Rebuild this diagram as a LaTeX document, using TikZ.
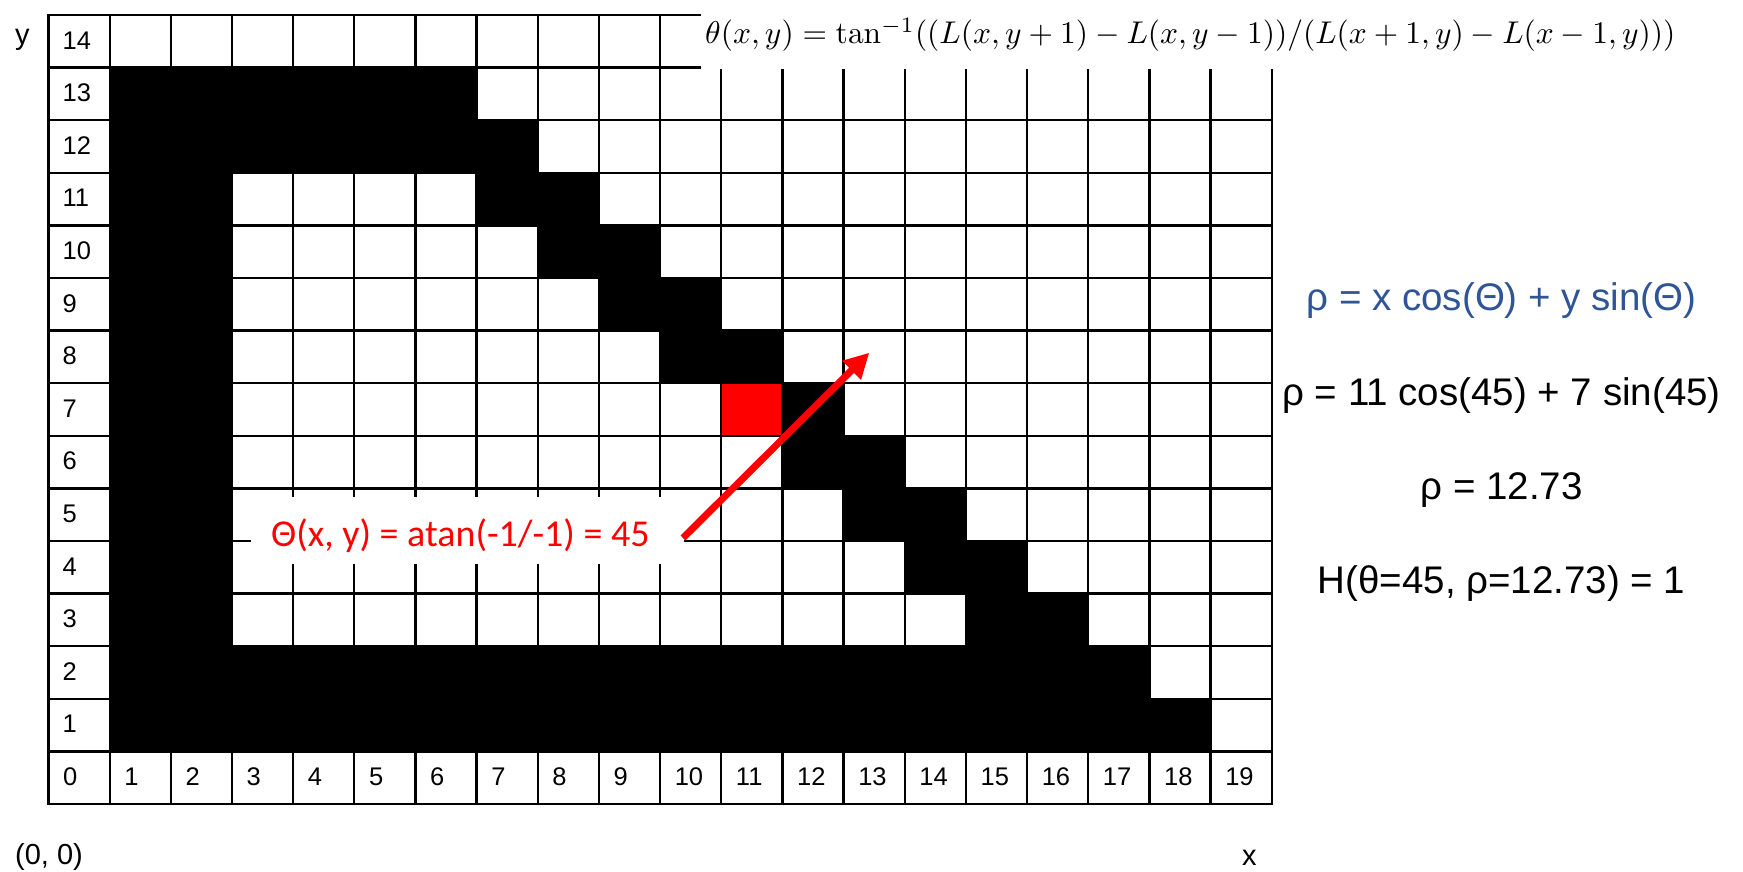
\documentclass[tikz,border=0pt]{standalone}
\usepackage[no-math]{fontspec}
\setmainfont{Liberation Sans}
\newfontfamily\calib{Carlito}
\usepackage{graphicx}
\usetikzlibrary{arrows.meta}
\definecolor{eqblue}{RGB}{47,85,151}
\definecolor{hotred}{RGB}{255,0,0}
\newcommand\blackrun[3]{\fill[cellblack] ({48.5+61.16*#2},{15+52.6*(14-#1)}) rectangle ({48.5+61.16*(#3+1)},{15+52.6*(15-#1)});}
\begin{document}
\begin{tikzpicture}[x=1pt,y=-1pt,
  cellblack/.style={fill=black},
  gridline/.style={line width=2.3pt, draw=black, line cap=rect},
  celllabel/.style={anchor=west, inner sep=0pt, font=\fontsize{25.5}{30}\selectfont},
  axislabel/.style={anchor=base west, inner sep=0pt, font=\fontsize{29}{33}\selectfont},
  rhs/.style={anchor=base, inner sep=0pt, font=\fontsize{38.5}{44}\selectfont},
  whitebox/.style={fill=white, draw=none, inner sep=0pt},
  redtext/.style={anchor=base west, inner sep=0pt, text=hotred, font=\calib\fontsize{38}{44}\selectfont},
  redarrow/.style={draw=hotred, line width=7pt, -{Triangle[length=25pt,width=25pt]}}]
\useasboundingbox (0,0) rectangle (1743,871);
\fill[white] (0,0) rectangle (1743,871);
% black pixels
\blackrun{13}{1}{6}
\blackrun{12}{1}{7}
\fill[cellblack] ({48.5+61.16*1},{15+52.6*3}) rectangle ({48.5+61.16*3},{15+52.6*12});
\blackrun{11}{7}{8}
\blackrun{10}{8}{9}
\blackrun{9}{9}{10}
\blackrun{8}{10}{11}
\blackrun{7}{12}{12}
\blackrun{6}{12}{13}
\blackrun{5}{13}{14}
\blackrun{4}{14}{15}
\blackrun{3}{15}{16}
\blackrun{2}{1}{17}
\blackrun{1}{1}{18}
% red pixel
\fill[hotred] ({48.5+61.16*11},{15+52.6*7}) rectangle ({48.5+61.16*12},{15+52.6*8});
% grid
\foreach \i in {0,...,20} \draw[gridline] ({48.5+61.16*\i},15) -- ({48.5+61.16*\i},804);
\foreach \j in {0,...,15} \draw[gridline] (48.5,{15+52.6*\j}) -- (1271.7,{15+52.6*\j});
% labels
\foreach \r in {1,...,14} \node[celllabel] (rl\r) at (62.5,{15+52.6*(14-\r)+25.3}) {\r};
\foreach \c in {0,...,19} \node[celllabel] (cl\c) at ({48.5+61.16*\c+14.5},{15+52.6*14+25.3}) {\c};
\node[axislabel] (ylab) at (15,44) {y};
\node[axislabel] (origin) at (15,864) {(0, 0)};
\node[axislabel] (xlab) at (1242,865) {x};
% equation box
\node[whitebox, minimum width=1042pt, minimum height=69pt, anchor=north west] (eqbox) at (701,0) {};
\node[anchor=west, inner sep=0pt] (eq) at (705,35) {\resizebox{970pt}{!}{$\theta(x,y)=\tan^{-1}((L(x,y+1)-L(x,y-1))/(L(x+1,y)-L(x-1,y)))$}};
% right-hand text
\node[rhs, text=eqblue] (hough) at (1501.5,310) {ρ = x cos(Θ) + y sin(Θ)};
\node[rhs] (subst) at (1501.5,405) {ρ = 11 cos(45) + 7 sin(45)};
\node[rhs] (rho) at (1501.5,499) {ρ = 12.73};
\node[rhs] (vote) at (1501.5,593) {H(θ=45, ρ=12.73) = 1};
% gradient label and arrow
\node[whitebox, minimum width=433pt, minimum height=67pt, anchor=north west] (lblbox) at (251,497) {};
\node[redtext] (lbl) at (271,546) {Θ(x, y) = atan(-1/-1) = 45};
\coordinate (atail) at (683,538);
\coordinate (ahead) at (869.3,352.7);
\draw[redarrow] (atail) -- (ahead);
\end{tikzpicture}
\end{document}
